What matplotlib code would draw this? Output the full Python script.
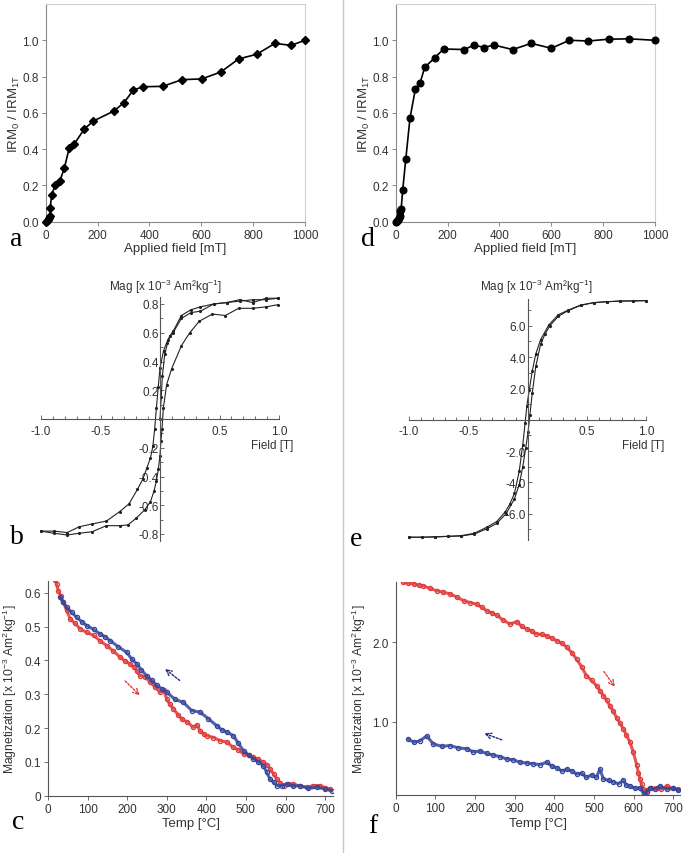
import matplotlib
matplotlib.use("Agg")
import matplotlib.pyplot as plt
from matplotlib.ticker import MultipleLocator, FixedLocator

plt.rcParams['font.family'] = ['Liberation Sans', 'DejaVu Sans']
plt.rcParams['mathtext.fontset'] = 'custom'
plt.rcParams['mathtext.rm'] = 'Liberation Sans'
plt.rcParams['mathtext.it'] = 'Liberation Sans'
plt.rcParams['axes.unicode_minus'] = False

# ---------------- data ----------------
# (a) IRM acquisition, sample 1
irm_a_field = [0, 4, 8, 13, 17, 17, 23, 36, 55, 72, 91, 109, 149, 184, 263, 302, 338, 377,
               451, 526, 602, 675, 744, 814, 884, 946, 1000]
irm_a_val = [0.0, 0.005, 0.01, 0.02, 0.03, 0.073, 0.147, 0.20, 0.226, 0.296, 0.408, 0.426,
             0.511, 0.555, 0.61, 0.656, 0.726, 0.744, 0.746, 0.783, 0.787, 0.825, 0.897,
             0.923, 0.983, 0.972, 1.0]
# (d) IRM acquisition, sample 2
irm_d_field = [0, 4, 8, 13, 17, 17, 21, 27, 39, 55, 76, 94, 112, 150, 185, 265, 302, 341,
               378, 451, 523, 600, 670, 743, 821, 900, 1000]
irm_d_val = [0.0, 0.005, 0.01, 0.02, 0.033, 0.06, 0.07, 0.175, 0.346, 0.57, 0.732, 0.765,
             0.851, 0.903, 0.952, 0.949, 0.974, 0.96, 0.974, 0.949, 0.983, 0.956, 1.0,
             0.996, 1.006, 1.008, 1.0]

# (b) hysteresis, sample 1 (field [T], magnetization)
hb_init_x = [0.0, 0.01, 0.02, 0.04, 0.07, 0.11, 0.18, 0.26, 0.34, 0.45, 0.56, 0.67, 0.78, 0.89, 0.99]
hb_init_y = [0.0, 0.15, 0.30, 0.45, 0.55, 0.60, 0.70, 0.74, 0.75, 0.80, 0.81, 0.82, 0.83, 0.83, 0.84]
hb_desc_x = [0.99, 0.89, 0.78, 0.67, 0.56, 0.45, 0.34, 0.26, 0.18, 0.11, 0.084, 0.056, 0.03, 0.0,
             -0.015, -0.03, -0.045, -0.06, -0.08, -0.11, -0.145, -0.19, -0.26, -0.34, -0.45,
             -0.57, -0.68, -0.78, -0.89, -1.0]
hb_desc_y = [0.84, 0.84, 0.81, 0.83, 0.81, 0.80, 0.78, 0.76, 0.72, 0.61, 0.58, 0.53, 0.475, 0.355,
             0.22, 0.08, -0.07, -0.19, -0.27, -0.34, -0.42, -0.49, -0.59, -0.645, -0.71,
             -0.73, -0.75, -0.79, -0.78, -0.78]
hb_asc_x = [-1.0, -0.89, -0.78, -0.68, -0.57, -0.45, -0.34, -0.27, -0.20, -0.13, -0.08, -0.05,
            -0.03, -0.014, 0.0, 0.008, 0.017, 0.028, 0.056, 0.098, 0.18, 0.25, 0.33, 0.44,
            0.55, 0.66, 0.78, 0.89, 0.99]
hb_asc_y = [-0.78, -0.795, -0.807, -0.795, -0.784, -0.742, -0.742, -0.737, -0.69, -0.633,
            -0.575, -0.50, -0.43, -0.35, -0.255, -0.15, -0.07, 0.077, 0.24, 0.35, 0.51, 0.60,
            0.68, 0.73, 0.72, 0.77, 0.77, 0.78, 0.795]

# (e) hysteresis, sample 2
he_desc_x = [1.0, 0.89, 0.78, 0.67, 0.56, 0.45, 0.34, 0.26, 0.18, 0.11, 0.07, 0.04, 0.015,
             -0.005, -0.02, -0.04, -0.07, -0.11, -0.15, -0.19, -0.26, -0.34, -0.45, -0.56,
             -0.67, -0.78, -0.89, -1.0]
he_desc_y = [7.6, 7.58, 7.57, 7.53, 7.47, 7.32, 6.98, 6.7, 6.05, 5.1, 4.2, 3.1, 1.9, 0.9,
             -0.2, -1.6, -3.3, -4.7, -5.4, -5.9, -6.5, -6.85, -7.25, -7.4, -7.44, -7.47,
             -7.5, -7.5]
he_asc_x = [-1.0, -0.89, -0.78, -0.67, -0.56, -0.45, -0.34, -0.26, -0.18, -0.11, -0.07, -0.04,
            -0.015, 0.005, 0.02, 0.04, 0.07, 0.11, 0.15, 0.19, 0.26, 0.34, 0.45, 0.56, 0.67,
            0.78, 0.89, 1.0]
he_asc_y = [-7.5, -7.5, -7.48, -7.45, -7.42, -7.3, -6.95, -6.62, -6.0, -5.05, -4.15, -3.0,
            -1.8, -0.8, 0.3, 1.7, 3.4, 4.8, 5.5, 6.0, 6.6, 6.95, 7.3, 7.47, 7.53, 7.57, 7.58, 7.6]

# (c) thermomagnetic curve, sample 1
tc_heat_T = [18, 22, 26, 32, 39, 47, 56, 68, 81, 98, 115, 132, 148, 165, 182, 195, 207, 216,
             224, 232, 245, 258, 270, 283, 292, 300, 308, 317, 328, 338, 352, 367, 376, 384,
             393, 401, 418, 435, 452, 468, 481, 494, 507, 519, 531, 544, 553, 561, 570, 578,
             587, 595, 607, 620, 637, 654, 670, 687, 700, 713]
tc_heat_M = [0.637, 0.625, 0.607, 0.59, 0.573, 0.548, 0.523, 0.51, 0.494, 0.483, 0.474, 0.458,
             0.444, 0.428, 0.41, 0.398, 0.39, 0.382, 0.37, 0.355, 0.352, 0.336, 0.322, 0.306,
             0.312, 0.286, 0.27, 0.257, 0.24, 0.227, 0.218, 0.202, 0.21, 0.192, 0.183, 0.178,
             0.172, 0.163, 0.158, 0.143, 0.136, 0.123, 0.121, 0.114, 0.108, 0.099, 0.092,
             0.079, 0.064, 0.049, 0.038, 0.03, 0.036, 0.035, 0.028, 0.025, 0.03, 0.03, 0.024,
             0.02]
tc_cool_T = [717, 700, 679, 658, 637, 620, 603, 590, 578, 570, 561, 552, 544, 531, 519, 507,
             494, 481, 468, 452, 439, 426, 405, 384, 363, 342, 321, 300, 288, 275, 262, 249,
             236, 224, 211, 199, 178, 157, 144, 131, 115, 98, 85, 72, 60, 47, 38, 30]
tc_cool_M = [0.015, 0.02, 0.025, 0.022, 0.03, 0.028, 0.035, 0.03, 0.03, 0.04, 0.049, 0.07,
             0.089, 0.1, 0.109, 0.12, 0.133, 0.155, 0.178, 0.188, 0.195, 0.207, 0.228, 0.247,
             0.252, 0.276, 0.285, 0.306, 0.316, 0.326, 0.342, 0.355, 0.372, 0.39, 0.405,
             0.424, 0.44, 0.459, 0.47, 0.479, 0.492, 0.503, 0.515, 0.528, 0.542, 0.558, 0.572,
             0.587]

# (f) thermomagnetic curve, sample 2
tf_heat_T = [19, 32, 45, 58, 70, 86, 103, 120, 137, 154, 171, 188, 204, 217, 229, 242, 255,
             271, 288, 305, 318, 330, 343, 355, 368, 381, 394, 406, 419, 431, 444, 456, 469,
             481, 494, 507, 515, 524, 532, 540, 549, 557, 566, 574, 582, 591, 599, 608, 612,
             616, 620, 624, 629, 633, 645, 658, 670, 683, 700, 713]
tf_heat_M = [2.756, 2.745, 2.735, 2.72, 2.71, 2.68, 2.65, 2.63, 2.61, 2.57, 2.525, 2.5, 2.48,
             2.44, 2.4, 2.37, 2.34, 2.28, 2.23, 2.26, 2.2, 2.17, 2.14, 2.105, 2.1, 2.08, 2.05,
             2.02, 1.99, 1.94, 1.87, 1.79, 1.69, 1.58, 1.52, 1.45, 1.39, 1.33, 1.27, 1.2, 1.13,
             1.05, 0.98, 0.91, 0.83, 0.74, 0.62, 0.45, 0.36, 0.28, 0.21, 0.15, 0.12, 0.14,
             0.16, 0.17, 0.15, 0.19, 0.16, 0.15]
tf_cool_T = [713, 700, 683, 666, 654, 641, 633, 626, 616, 604, 591, 582, 574, 562, 549, 537,
             524, 515, 506, 494, 481, 469, 456, 444, 431, 419, 406, 394, 381, 364, 347, 330,
             313, 297, 280, 263, 246, 229, 213, 196, 179, 158, 137, 116, 95, 78, 61, 46, 32]
tf_cool_M = [0.14, 0.16, 0.15, 0.19, 0.15, 0.17, 0.12, 0.09, 0.17, 0.16, 0.19, 0.2, 0.26, 0.22,
             0.24, 0.26, 0.28, 0.40, 0.3, 0.33, 0.30, 0.35, 0.34, 0.38, 0.40, 0.38, 0.42, 0.44,
             0.49, 0.46, 0.47, 0.48, 0.49, 0.52, 0.53, 0.56, 0.58, 0.6, 0.63, 0.62, 0.66, 0.67,
             0.70, 0.69, 0.72, 0.82, 0.76, 0.74, 0.78]

# ---------------- figure ----------------
W, H = 685, 854
fig = plt.figure(figsize=(W / 100, H / 100), dpi=100)
fig.patch.set_facecolor('white')

TXT = '#333333'
SPINE = '#888888'


def axpx(l, r, t, b):
    return fig.add_axes([l / W, 1 - b / H, (r - l) / W, (b - t) / H])


def ftext(x, y, s, **kw):
    fig.text(x / W, 1 - y / H, s, **kw)


# separator
fig.add_artist(plt.Line2D([343 / W, 343 / W], [0, 1], color='#c8c8c8', lw=1.0))

mag_lab = 'Magnetization [x 10$^{-3}$ Am$^{2}$kg$^{-1}$]'
irm_lab = 'IRM$_{0}$ / IRM$_{1T}$'


def irm_axes(l, r):
    ax = axpx(l, r, 5, 222.7)
    ax.set_xlim(0, 1000)
    ax.set_ylim(0, 1.2)
    ax.xaxis.set_major_locator(MultipleLocator(200))
    ax.yaxis.set_major_locator(FixedLocator([0, 0.2, 0.4, 0.6, 0.8, 1.0]))
    ax.yaxis.set_major_formatter(plt.FuncFormatter(lambda v, p: f'{v:.1f}'))
    for s in ['top', 'right']:
        ax.spines[s].set_color('#d0d0d0')
    for s in ['left', 'bottom']:
        ax.spines[s].set_color(SPINE)
    for s in ax.spines.values():
        s.set_linewidth(0.8)
    ax.tick_params(length=3, width=0.7, color=SPINE, labelsize=8.5, labelcolor=TXT, pad=2)
    return ax


# (a)
ax = irm_axes(45.7, 305)
ax.plot(irm_a_field, irm_a_val, color='black', lw=1.2, marker='D', ms=4.5, clip_on=False, zorder=3)
ax.set_xlabel('Applied field [mT]', fontsize=9.5, color=TXT, labelpad=1)
ax.set_ylabel(irm_lab, fontsize=9.5, color=TXT, labelpad=0)

# (d)
ax = irm_axes(395.7, 655)
ax.plot(irm_d_field, irm_d_val, color='black', lw=1.2, marker='o', ms=4.8, clip_on=False, zorder=3)
ax.set_xlabel('Applied field [mT]', fontsize=9.5, color=TXT, labelpad=1)
ax.set_ylabel(irm_lab, fontsize=9.5, color=TXT, labelpad=0)


def hyst_axes(l, r, x0, yc, ppu, ylim, yticks, fmt, minor):
    top = yc - ylim * ppu
    bot = yc + ylim * ppu
    ax = axpx(l, r, top, bot)
    ax.set_xlim(-1, 1)
    ax.set_ylim(-ylim, ylim)
    ax.spines['left'].set_position(('data', 0))
    ax.spines['bottom'].set_position(('data', 0))
    ax.spines['top'].set_visible(False)
    ax.spines['right'].set_visible(False)
    for s in ['left', 'bottom']:
        ax.spines[s].set_color('#555555')
        ax.spines[s].set_linewidth(0.8)
    ax.set_facecolor('none')
    ax.xaxis.set_major_locator(FixedLocator([-1.0, -0.5, 0.5, 1.0]))
    ax.xaxis.set_minor_locator(MultipleLocator(0.1))
    ax.xaxis.set_major_formatter(plt.FuncFormatter(lambda v, p: f'{v:.1f}'))
    ax.yaxis.set_major_locator(FixedLocator(yticks))
    ax.yaxis.set_minor_locator(MultipleLocator(minor))
    ax.yaxis.set_major_formatter(plt.FuncFormatter(lambda v, p: fmt.format(v)))
    ax.tick_params(axis='x', which='both', direction='in', length=3, width=0.6, color='#555555',
                   labelsize=8.5, labelcolor=TXT, pad=4)
    ax.tick_params(axis='y', which='both', direction='in', length=3, width=0.6, color='#555555',
                   labelsize=8.5, labelcolor=TXT, pad=1)
    ax.tick_params(which='minor', length=2)
    return ax


# (b)
ax = hyst_axes(41, 279, 160, 420, 143.75, 0.85,
               [-0.8, -0.6, -0.4, -0.2, 0.2, 0.4, 0.6, 0.8], '{:.1f}', 0.1)
for xs, ys in [(hb_init_x, hb_init_y), (hb_desc_x, hb_desc_y), (hb_asc_x, hb_asc_y)]:
    ax.plot(xs, ys, color='#222222', lw=0.8, marker='.', ms=2.5, clip_on=False)
ftext(165, 287, 'Mag [x 10$^{-3}$ Am\u00b2kg$^{-1}$]', fontsize=8.5, color=TXT, ha='center', va='center')
ftext(272, 446, 'Field [T]', fontsize=8.5, color=TXT, ha='center', va='center')

# (e)
ax = hyst_axes(409, 646, 527.3, 420.7, 15.67, 7.7,
               [-6, -4, -2, 2, 4, 6], '{:.1f}', 1.0)
for xs, ys in [(he_desc_x, he_desc_y), (he_asc_x, he_asc_y)]:
    ax.plot(xs, ys, color='#222222', lw=0.8, marker='.', ms=2.5, clip_on=False)
ftext(536, 287, 'Mag [x 10$^{-3}$ Am\u00b2kg$^{-1}$]', fontsize=8.5, color=TXT, ha='center', va='center')
ftext(643, 446, 'Field [T]', fontsize=8.5, color=TXT, ha='center', va='center')

RED = '#e03a3a'
BLUE = '#34469a'


def thermo_axes(l, r, t, b, xmax, ylim):
    ax = axpx(l, r, t, b)
    ax.set_xlim(0, xmax)
    ax.set_ylim(*ylim)
    ax.spines['top'].set_visible(False)
    ax.spines['right'].set_visible(False)
    for s in ['left', 'bottom']:
        ax.spines[s].set_color('#555555')
        ax.spines[s].set_linewidth(0.8)
    ax.xaxis.set_major_locator(MultipleLocator(100))
    ax.tick_params(length=3, width=0.6, color='#555555', labelsize=8.5, labelcolor=TXT, pad=2)
    ax.set_xlabel('Temp [\u00b0C]', fontsize=9.5, color=TXT, labelpad=2)
    return ax


def curve(ax, T, M, c):
    ax.plot(T, M, color=c, lw=2.2, alpha=0.85, solid_joinstyle='round')
    ax.plot(T, M, color=c, lw=0, marker='o', ms=3, mfc='none', mew=0.9)


# (c)
ax = thermo_axes(48, 333, 581.7, 796.7, 720, (0, 0.636))
ax.yaxis.set_major_locator(FixedLocator([0, 0.1, 0.2, 0.3, 0.4, 0.5, 0.6]))
ax.yaxis.set_major_formatter(plt.FuncFormatter(lambda v, p: '0' if v == 0 else f'{v:.1f}'))
curve(ax, tc_heat_T, tc_heat_M, RED)
curve(ax, tc_cool_T, tc_cool_M, BLUE)
ax.set_ylabel(mag_lab, fontsize=8.7, color=TXT, labelpad=4)
ax.annotate('', xy=(237, 0.291), xytext=(190, 0.345),
            arrowprops=dict(arrowstyle='->', color=RED, lw=1.0, ls=(0, (1.5, 1.2))))
ax.annotate('', xy=(290, 0.38), xytext=(338, 0.336),
            arrowprops=dict(arrowstyle='->', color='#1f2a7a', lw=1.0, ls=(0, (1.5, 1.2))))

# (f)
ax = thermo_axes(395.7, 680, 583.3, 796, 717, (0.077, 2.756))
ax.yaxis.set_major_locator(FixedLocator([1.0, 2.0]))
ax.yaxis.set_major_formatter(plt.FuncFormatter(lambda v, p: f'{v:.1f}'))
curve(ax, tf_heat_T, tf_heat_M, RED)
curve(ax, tf_cool_T, tf_cool_M, BLUE)
ax.set_ylabel(mag_lab, fontsize=8.7, color=TXT, labelpad=3)
ax.annotate('', xy=(557, 1.41), xytext=(521, 1.66),
            arrowprops=dict(arrowstyle='->', color=RED, lw=1.0, ls=(0, (1.5, 1.2))))
ax.annotate('', xy=(217, 0.865), xytext=(274, 0.76),
            arrowprops=dict(arrowstyle='->', color='#1f2a7a', lw=1.0, ls=(0, (1.5, 1.2))))

# panel letters
for (x, y, s) in [(16, 240, 'a'), (368, 240, 'd'), (17, 537, 'b'), (356, 540, 'e'),
                  (18, 823, 'c'), (373, 827, 'f')]:
    ftext(x, y, s, fontsize=20, family='Liberation Serif', color='black', ha='center', va='center')

fig.savefig('out.png', dpi=100, facecolor='white')
